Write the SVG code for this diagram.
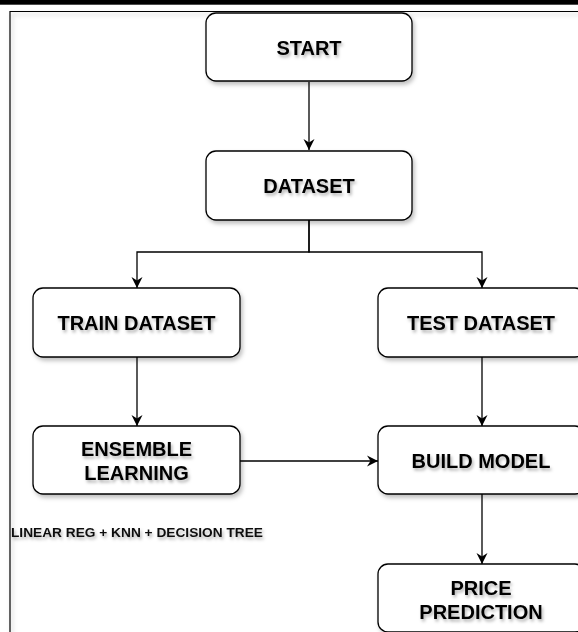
<svg xmlns="http://www.w3.org/2000/svg" width="578" height="632" viewBox="0 0 578 632">
<defs>
<filter id="sh" x="-20%" y="-20%" width="150%" height="160%">
<feDropShadow dx="2" dy="3" stdDeviation="2" flood-color="#000" flood-opacity="0.25"/>
</filter>
<filter id="tsh" x="-10%" y="-50%" width="120%" height="200%">
<feDropShadow dx="1.5" dy="2.5" stdDeviation="1.5" flood-color="#000" flood-opacity="0.3"/>
</filter>
<marker id="arr" markerUnits="userSpaceOnUse" markerWidth="12" markerHeight="12" refX="11" refY="6" orient="auto">
<path d="M0,0.5 L11,6 L0,11.5 L3.5,6 Z" fill="#000"/>
</marker>
</defs>
<style>
.box{fill:#fff;stroke:#000;stroke-width:1.3;filter:url(#sh)}
.lbl{font-family:"Liberation Sans",Arial,Helvetica,sans-serif;font-weight:bold;font-size:20px;fill:#000;text-anchor:middle;filter:url(#tsh)}
.con{fill:none;stroke:#000;stroke-width:1.3;marker-end:url(#arr)}
</style>
<rect width="578" height="632" fill="#fff"/>
<rect x="0" y="0" width="578" height="4.7" fill="#000"/>
<path d="M10,632 V11.5 H578" fill="none" stroke="#000" stroke-width="1.2" filter="url(#sh)"/>
<g id="connectors">
<path class="con" d="M309,82 V150"/>
<path class="con" d="M309,220 V252 H137 V288"/>
<path class="con" d="M309,220 V252 H482 V288"/>
<path class="con" d="M137,357 V426"/>
<path class="con" d="M482,357 V426"/>
<path class="con" d="M240,461 H378"/>
<path class="con" d="M482,494 V564"/>
</g>
<g id="start">
<rect class="box" x="206" y="13" width="206" height="68" rx="10"/>
<text class="lbl" x="309" y="54.5">START</text>
</g>
<g id="dataset">
<rect class="box" x="206" y="151" width="206" height="69" rx="10"/>
<text class="lbl" x="309" y="192.5">DATASET</text>
</g>
<g id="train">
<rect class="box" x="33" y="288" width="207" height="69" rx="10"/>
<text class="lbl" x="136.5" y="329.5">TRAIN DATASET</text>
</g>
<g id="test">
<rect class="box" x="378" y="288" width="207" height="69" rx="10"/>
<text class="lbl" x="481" y="329.5">TEST DATASET</text>
</g>
<g id="ensemble">
<rect class="box" x="33" y="426" width="207" height="68" rx="10"/>
<text class="lbl" x="136.5" y="456">ENSEMBLE</text>
<text class="lbl" x="136.5" y="480">LEARNING</text>
</g>
<g id="build">
<rect class="box" x="378" y="426" width="207" height="68" rx="10"/>
<text class="lbl" x="481" y="467.5">BUILD MODEL</text>
</g>
<g id="price">
<rect class="box" x="378" y="564" width="207" height="68" rx="10"/>
<text class="lbl" x="481" y="595">PRICE</text>
<text class="lbl" x="481" y="618.5">PREDICTION</text>
</g>
<g id="note">
<text x="11" y="537" font-family="'Liberation Sans',Arial,sans-serif" font-weight="bold" font-size="13.5" fill="#111" textLength="252" lengthAdjust="spacingAndGlyphs" filter="url(#tsh)">LINEAR REG + KNN + DECISION TREE</text>
</g>
</svg>
